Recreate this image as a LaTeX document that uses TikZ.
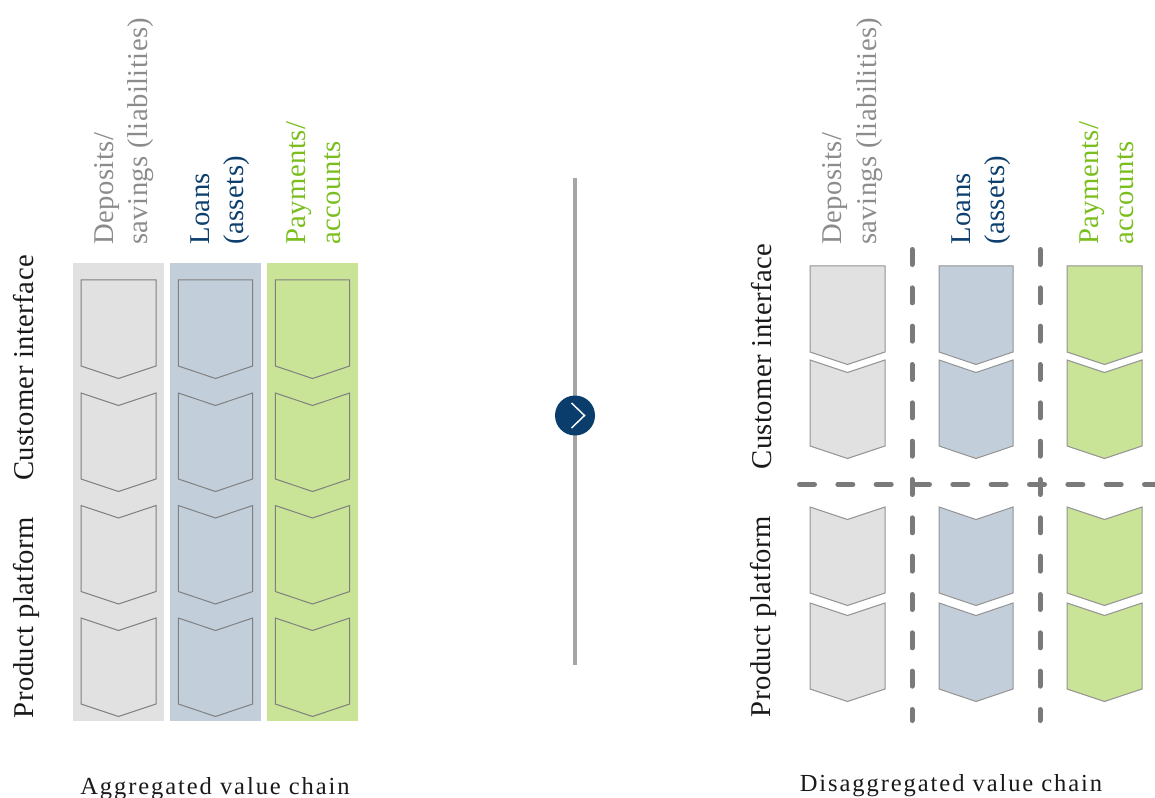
\documentclass[tikz,border=0pt]{standalone}
\usepackage{fontspec}
\setmainfont{Liberation Serif}
\newfontfamily\headfont[LetterSpace=1.5]{Liberation Serif}
\newfontfamily\botfont[LetterSpace=7.8]{Liberation Serif}
\definecolor{bggray}{RGB}{225,225,225}
\definecolor{bgblue}{RGB}{194,206,218}
\definecolor{bggreen}{RGB}{201,227,151}
\definecolor{txgray}{RGB}{140,140,140}
\definecolor{txblue}{RGB}{12,62,110}
\definecolor{txgreen}{RGB}{122,190,30}
\definecolor{txdark}{RGB}{25,25,25}
\definecolor{edgegray}{RGB}{128,128,128}
\definecolor{dashgray}{RGB}{122,122,122}
\definecolor{midgray}{RGB}{166,166,166}
\definecolor{navy}{RGB}{10,61,107}
% #1 left x, #2 right x, #3 top y, #4 notch depth, #5 style
\newcommand{\mychev}[5]{%
  \path[#5] (#1,#3) -- ({(#1+#2)/2},{#3+#4}) -- (#2,#3) -- (#2,{#3+86})
    -- ({(#1+#2)/2},{#3+98.5}) -- (#1,{#3+86}) -- cycle;}
\begin{document}
\begin{tikzpicture}[x=0.75pt,y=-0.75pt,
  head/.style={rotate=90,anchor=base west,inner sep=0pt,
    font=\headfont\fontsize{21.5pt}{26pt}\selectfont},
  sidelabel/.style={rotate=90,anchor=base,inner sep=0pt,text=txdark,
    font=\headfont\fontsize{21.5pt}{26pt}\selectfont},
  botlabel/.style={anchor=base,inner sep=0pt,text=txdark,
    font=\botfont\fontsize{18.4pt}{22pt}\selectfont},
  outlinechev/.style={draw=edgegray,line width=0.75pt,line join=miter},
  fillchev/.style={fill=#1,draw=edgegray!85,line width=0.75pt},
  divider/.style={draw=dashgray,line width=3.75pt,line cap=round,
    dash pattern=on 11.25pt off 17.5pt},
  midline/.style={draw=midgray,line width=2.3pt}]
\useasboundingbox (0,0) rectangle (1155,798);

% ---------- left: aggregated value chain ----------
\fill[bggray]  (73,263)  rectangle (164,721);
\fill[bgblue]  (170,263) rectangle (261,721);
\fill[bggreen] (267,263) rectangle (358,721);
\foreach \xl/\xr in {81/156,178.3/252.7,275.3/349.7}{
  \mychev{\xl}{\xr}{280}{0}{outlinechev}
  \mychev{\xl}{\xr}{393}{12.5}{outlinechev}
  \mychev{\xl}{\xr}{505.5}{12.5}{outlinechev}
  \mychev{\xl}{\xr}{618}{12.5}{outlinechev}
}

\node[head,text=txgray]  (ldep1) at (113,245) {Deposits/};
\node[head,text=txgray]  (ldep2) at (147,245) {savings (liabilities)};
\node[head,text=txblue]  (lloa1) at (209,245) {Loans};
\node[head,text=txblue]  (lloa2) at (243,245) {(assets)};
\node[head,text=txgreen] (lpay1) at (305,245) {Payments/};
\node[head,text=txgreen] (lpay2) at (340,245) {accounts};

\node[sidelabel] (lci) at (33,368)   {Customer interface};
\node[sidelabel] (lpp) at (33,617.5) {Product platform};

\node[botlabel] (agg) at (215,794) {Aggregated value chain};

% ---------- middle: transition ----------
\coordinate (mtop) at (575,178);
\coordinate (mbot) at (575,665);
\draw[midline] (mtop) -- (mbot);
\node[circle,fill=navy,minimum size=30pt,inner sep=0pt] (go) at (575,415.5) {};
\draw[white,line width=1.1pt,line join=miter]
  ([shift={(-3.5,-12.5)}]go.center) -- ([shift={(9.5,0)}]go.center)
  -- ([shift={(-3.5,12.5)}]go.center);

% ---------- right: disaggregated value chain ----------
\foreach \xl/\xr/\c in {810/885/bggray,939/1013/bgblue,1067/1142/bggreen}{
  \mychev{\xl}{\xr}{266}{0}{fillchev=\c}
  \mychev{\xl}{\xr}{360}{12.5}{fillchev=\c}
  \mychev{\xl}{\xr}{507}{12.5}{fillchev=\c}
  \mychev{\xl}{\xr}{603}{12.5}{fillchev=\c}
}

\coordinate (v1t) at (912,249.5);
\coordinate (v1b) at (912,720.5);
\coordinate (v2t) at (1040,249.5);
\coordinate (v2b) at (1040,720.5);
\coordinate (h1) at (799.5,484.5);
\coordinate (h2) at (1175,484.5);
\draw[divider] (v1t) -- (v1b);
\draw[divider] (v2t) -- (v2b);
\draw[divider] (h1) -- (h2);

\node[head,text=txgray]  (rdep1) at (841,245)  {Deposits/};
\node[head,text=txgray]  (rdep2) at (876,245)  {savings (liabilities)};
\node[head,text=txblue]  (rloa1) at (970,245)  {Loans};
\node[head,text=txblue]  (rloa2) at (1004,245) {(assets)};
\node[head,text=txgreen] (rpay1) at (1098,245) {Payments/};
\node[head,text=txgreen] (rpay2) at (1133,245) {accounts};

\node[sidelabel] (rci) at (771,356.5) {Customer interface};
\node[sidelabel] (rpp) at (770,616.5) {Product platform};

\node[botlabel] (disagg) at (951,791) {Disaggregated value chain};
\end{tikzpicture}
\end{document}
